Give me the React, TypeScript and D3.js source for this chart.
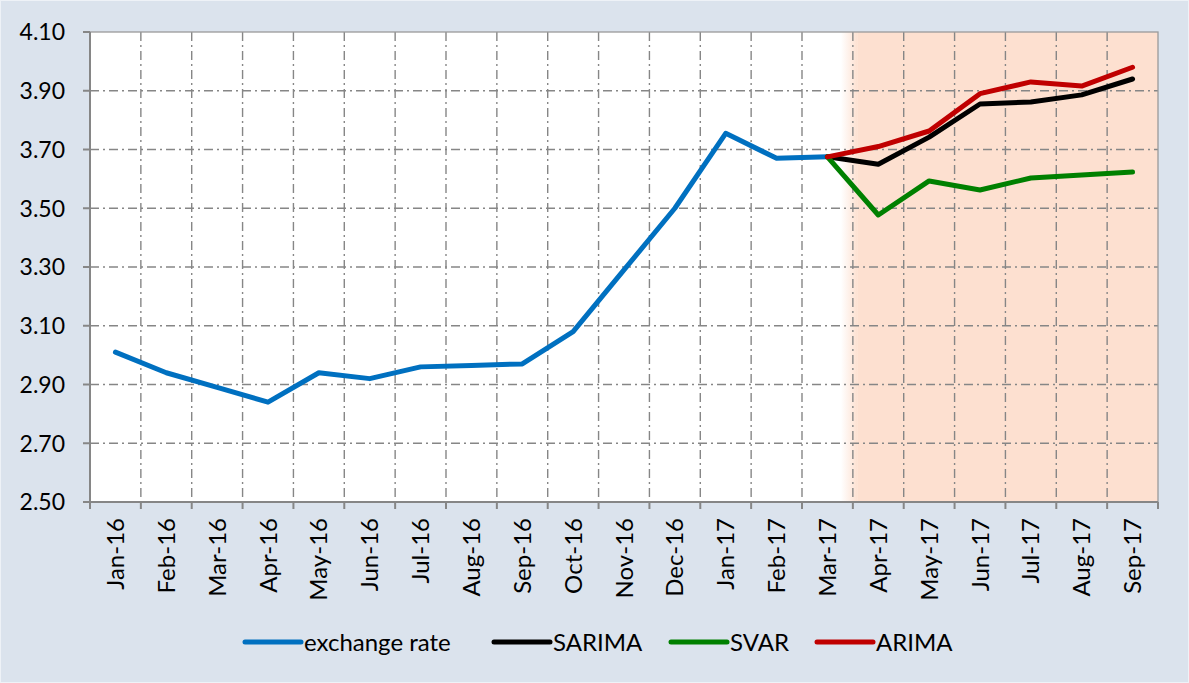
import React from 'react';
import * as d3 from 'd3';

const months = ['Jan-16', 'Feb-16', 'Mar-16', 'Apr-16', 'May-16', 'Jun-16', 'Jul-16', 'Aug-16', 'Sep-16', 'Oct-16', 'Nov-16', 'Dec-16',
    'Jan-17', 'Feb-17', 'Mar-17', 'Apr-17', 'May-17', 'Jun-17', 'Jul-17', 'Aug-17', 'Sep-17'];
const exchangeRate = [3.01, 2.94, 2.89, 2.84, 2.94, 2.92, 2.96, 2.965, 2.97, 3.08, 3.29, 3.50, 3.755, 3.67, 3.675];
const forecastMonths = ['Mar-17', 'Apr-17', 'May-17', 'Jun-17', 'Jul-17', 'Aug-17', 'Sep-17'];
const sarima = [3.675, 3.65, 3.742, 3.855, 3.862, 3.886, 3.94];
const svar = [3.675, 3.477, 3.593, 3.562, 3.603, 3.613, 3.623];
const arima = [3.675, 3.71, 3.763, 3.89, 3.93, 3.916, 3.98];
const yTicks = [2.5, 2.7, 2.9, 3.1, 3.3, 3.5, 3.7, 3.9, 4.1];
const forecastStart = 'Apr-17';

const series = [
    { name: 'exchange rate', color: '#0070C0', x: months.slice(0, exchangeRate.length), y: exchangeRate },
    { name: 'SARIMA', color: '#000000', x: forecastMonths, y: sarima },
    { name: 'SVAR', color: '#008000', x: forecastMonths, y: svar },
    { name: 'ARIMA', color: '#C00000', x: forecastMonths, y: arima },
];
// legend item left edges (layout only)
const legendX = [245, 494, 671, 817];

const W = 1189, H = 683;
const left = 90, right = 1158, top = 32, bottom = 502;
const grid = '#868686';
const shade = '#fde0d0';
const font = 'Lato, Calibri, sans-serif';

export default function App() {
    const x = d3.scaleBand().domain(months).range([left, right]).paddingInner(0).paddingOuter(0);
    const y = d3.scaleLinear().domain([2.5, 4.1]).range([bottom, top]);
    const bw = x.bandwidth();
    const boundaries = d3.range(months.length + 1).map(i => left + i * bw);
    const shadeX = x(forecastStart) as number;

    const lineFor = (xs: string[]) => d3.line<number>()
        .x((d, i) => (x(xs[i]) as number) + bw / 2)
        .y(d => y(d));

    return (
        <div style={{ position: 'absolute', left: 0, top: 0 }}>
            <svg width={W} height={H} style={{ display: 'block' }}>
                <defs>
                    <linearGradient id="fade" x1="0" x2="1" y1="0" y2="0">
                        <stop offset="0" stopColor={shade} stopOpacity={0} />
                        <stop offset="1" stopColor={shade} stopOpacity={1} />
                    </linearGradient>
                </defs>
                <rect x={0} y={0} width={W} height={H} fill="#dbe3ed" />
                <rect x={0.5} y={0.5} width={W - 1} height={H - 1} fill="none" stroke="#eef2f7" strokeWidth={1} />
                <rect x={left} y={top} width={right - left} height={bottom - top} fill="#ffffff" />
                <rect x={shadeX - 12} y={top} width={17} height={bottom - top} fill="url(#fade)" />
                <rect x={shadeX + 5} y={top} width={right - shadeX - 5} height={bottom - top} fill={shade} />

                {/* grid */}
                {yTicks.slice(1, -1).map(t => (
                    <line key={'h' + t} x1={left} x2={right} y1={y(t)} y2={y(t)} stroke={grid} strokeWidth={1.4} strokeDasharray="9,4,2,4" />
                ))}
                {boundaries.slice(1, -1).map((b, i) => (
                    <line key={'v' + i} x1={b} x2={b} y1={top} y2={bottom} stroke={grid} strokeWidth={1.4} strokeDasharray="9,4,2,4" />
                ))}
                <rect x={left} y={top} width={right - left} height={bottom - top} fill="none" stroke="#9a9a9a" strokeWidth={1.3} />

                {/* axes */}
                <line x1={left} x2={left} y1={top} y2={bottom} stroke={grid} strokeWidth={2} />
                <line x1={left} x2={right} y1={bottom} y2={bottom} stroke={grid} strokeWidth={2} />
                {yTicks.map(t => (
                    <g key={'yt' + t}>
                        <line x1={left - 7} x2={left} y1={y(t)} y2={y(t)} stroke={grid} strokeWidth={2} />
                        <text x={65} y={y(t)} dy="0.36em" textAnchor="end" fontFamily={font} fontSize={23} fill="#000">{t.toFixed(2)}</text>
                    </g>
                ))}
                {boundaries.map((b, i) => (
                    <line key={'xt' + i} x1={b} x2={b} y1={bottom} y2={bottom + 7} stroke={grid} strokeWidth={2} />
                ))}
                {months.map(m => {
                    const cx = (x(m) as number) + bw / 2;
                    return (
                        <text key={m} transform={`translate(${cx},${bottom + 16}) rotate(-90)`} dy="0.36em" textAnchor="end"
                            fontFamily={font} fontSize={24} fill="#000">{m}</text>
                    );
                })}

                {/* series */}
                {series.map(s => (
                    <path key={s.name} d={lineFor(s.x)(s.y) as string} fill="none" stroke={s.color} strokeWidth={5}
                        strokeLinejoin="round" strokeLinecap="round" />
                ))}

                {/* legend */}
                {series.map((s, i) => (
                    <g key={'lg' + s.name} transform={`translate(${legendX[i]},642)`}>
                        <line x1={0} x2={56} y1={0} y2={0} stroke={s.color} strokeWidth={5} strokeLinecap="round" />
                        <text x={59} y={0} dy="0.36em" fontFamily={font} fontSize={24} fill="#000">{s.name}</text>
                    </g>
                ))}
            </svg>
        </div>
    );
}
